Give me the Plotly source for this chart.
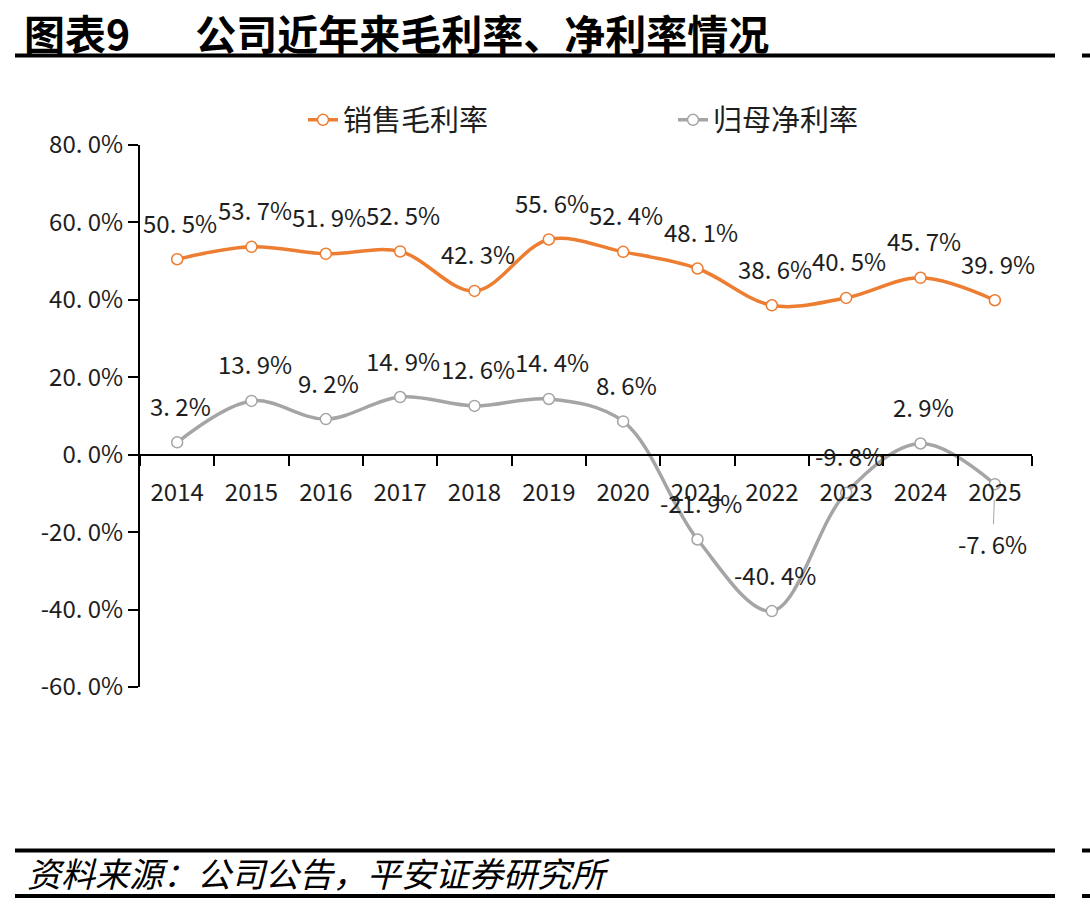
import plotly.graph_objects as go

years = [2014, 2015, 2016, 2017, 2018, 2019, 2020, 2021, 2022, 2023, 2024, 2025]
gross_margin = [50.5, 53.7, 51.9, 52.5, 42.3, 55.6, 52.4, 48.1, 38.6, 40.5, 45.7, 39.9]
net_margin = [3.2, 13.9, 9.2, 14.9, 12.6, 14.4, 8.6, -21.9, -40.4, -9.8, 2.9, -7.6]
y_ticks = [-60, -40, -20, 0, 20, 40, 60, 80]
series_names = ["销售毛利率", "归母净利率"]
title_text = "图表9" + "\u00a0" * 7 + "公司近年来毛利率、净利率情况"
source_text = "资料来源：公司公告，平安证券研究所"

W, H = 1090, 906
L, R, T, B = 140, 1032, 145, 687
FONT = "Noto Sans CJK SC"
ORANGE = "#ED7D31"
GRAY = "#A5A5A5"
TXT = "#1e1e1e"


def fmt(v):
    return f"{v:.1f}%".replace(".", ". ")


def px_x(p):
    return (p - L) / (R - L)


def px_y(p):
    return (B - p) / (B - T)


fig = go.Figure()
for name, vals, col in [(series_names[0], gross_margin, ORANGE), (series_names[1], net_margin, GRAY)]:
    fig.add_trace(go.Scatter(
        x=years, y=vals, name=name, mode="lines+markers",
        line=dict(color=col, width=3.5, shape="spline", smoothing=1.0),
        marker=dict(symbol="circle", size=11, color="white", line=dict(color=col, width=1.5)),
        cliponaxis=False,
    ))

# carrier trace so that the category axis drawn at y = 0 is rendered
fig.add_trace(go.Scatter(x=years, y=[None] * len(years), xaxis="x2", yaxis="y",
                         mode="markers", showlegend=False, hoverinfo="skip"))

annotations = []
for vals in (gross_margin, net_margin):
    for i, (yr, v) in enumerate(zip(years, vals)):
        if vals is net_margin and i == len(years) - 1:
            annotations.append(dict(
                x=yr, y=v, xref="x", yref="y", text=fmt(v), showarrow=True,
                ax=-2, ay=59, arrowhead=0, arrowwidth=1, arrowcolor=GRAY, standoff=16,
                font=dict(family=FONT, size=24, color=TXT),
            ))
        else:
            annotations.append(dict(
                x=yr, y=v, xref="x", yref="y", text=fmt(v), showarrow=False,
                yshift=37, xshift=3,
                font=dict(family=FONT, size=24, color=TXT),
            ))

annotations.append(dict(
    x=px_x(22), y=px_y(0), xref="paper", yref="paper", xanchor="left", yanchor="top",
    text="<b>" + title_text + "</b>", showarrow=False,
    font=dict(family=FONT, size=41, color="#000000"),
))
annotations.append(dict(
    x=px_x(25), y=px_y(872), xref="paper", yref="paper", xanchor="left", yanchor="middle",
    text="<i>" + source_text + "</i>", showarrow=False,
    font=dict(family=FONT, size=34, color="#000000"),
))

shapes = []
for yp in (55.5, 850.5, 896):
    shapes.append(dict(type="line", xref="paper", yref="paper",
                       x0=px_x(15), x1=px_x(1055), y0=px_y(yp), y1=px_y(yp),
                       line=dict(color="#000000", width=4)))
    shapes.append(dict(type="line", xref="paper", yref="paper",
                       x0=px_x(1082), x1=px_x(1092), y0=px_y(yp), y1=px_y(yp),
                       line=dict(color="#000000", width=4)))

x_range = [years[0] - 0.5, years[-1] + 0.5]

fig.update_layout(
    width=W, height=H, autosize=False,
    margin=dict(l=L, r=W - R, t=T, b=H - B, pad=0),
    paper_bgcolor="white", plot_bgcolor="white",
    showlegend=True,
    legend=dict(orientation="h", x=px_x(303), y=px_y(120), xanchor="left", yanchor="middle",
                font=dict(family=FONT, size=29, color=TXT),
                entrywidth=325, entrywidthmode="pixels", bgcolor="rgba(0,0,0,0)"),
    xaxis=dict(range=x_range, showline=False, showticklabels=False, ticks="",
               showgrid=False, zeroline=False),
    xaxis2=dict(range=x_range, overlaying="x", anchor="free", position=60 / 140,
                side="bottom",
                showline=True, linecolor="#000000", linewidth=2,
                tickmode="array", tickvals=years, ticktext=[str(y) for y in years],
                ticks="", ticklabelstandoff=16,
                minor=dict(tick0=x_range[0], dtick=1, ticks="outside", ticklen=10,
                           tickwidth=2, tickcolor="#000000", showgrid=False),
                showgrid=False, zeroline=False,
                tickfont=dict(family=FONT, size=24, color=TXT)),
    yaxis=dict(range=[-60, 80], tickvals=y_ticks, ticktext=[fmt(v) for v in y_ticks],
               showline=True, linecolor="#000000", linewidth=2,
               ticks="outside", ticklen=10, tickwidth=2, tickcolor="#000000",
               showgrid=False, zeroline=False,
               tickfont=dict(family=FONT, size=24, color=TXT)),
    annotations=annotations, shapes=shapes,
)

fig.write_html("out.html")
